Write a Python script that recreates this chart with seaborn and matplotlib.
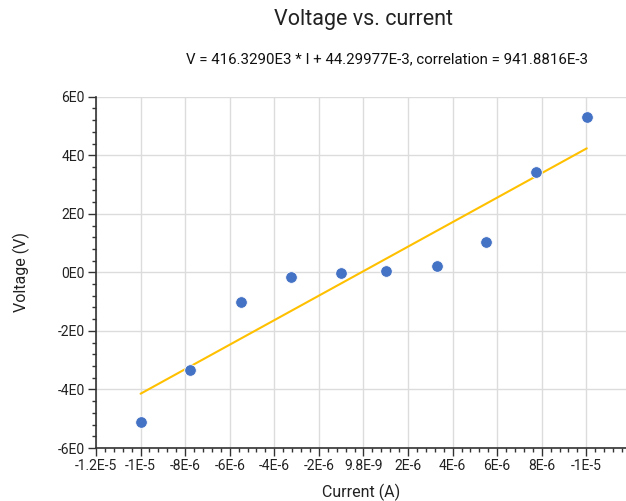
import numpy as np
import pandas as pd
import seaborn as sns
import matplotlib
matplotlib.use("Agg")
import matplotlib.pyplot as plt
from matplotlib.ticker import AutoMinorLocator, FixedLocator

current = [-10.0e-6, -7.76e-6, -5.5e-6, -3.25e-6, -1.0e-6, 1.0e-6, 3.28e-6, 5.52e-6, 7.75e-6, 10.02e-6]
voltage = [-5.12, -3.32, -1.0, -0.17, -0.01, 0.055, 0.2, 1.04, 3.44, 5.32]
x_ticks = [-1.2e-5, -1e-5, -8e-6, -6e-6, -4e-6, -2e-6, 0.0, 2e-6, 4e-6, 6e-6, 8e-6, 1e-5]
x_labels = ["-1.2E-5", "-1E-5", "-8E-6", "-6E-6", "-4E-6", "-2E-6", "9.8E-9",
            "2E-6", "4E-6", "6E-6", "8E-6", "-1E-5"]
y_ticks = [-6, -4, -2, 0, 2, 4, 6]
y_labels = ["-6E0", "-4E0", "-2E0", "0E0", "2E0", "4E0", "6E0"]
title = "Voltage vs. current"
subtitle = "V = 416.3290E3 * I + 44.29977E-3, correlation = 941.8816E-3"

df = pd.DataFrame({"Current (A)": current, "Voltage (V)": voltage})

sns.set_theme(style="white")
plt.rcParams["font.family"] = ["Roboto", "DejaVu Sans"]

fig = plt.figure(figsize=(6.26, 5.01), dpi=100)
ax = fig.add_axes([96 / 626, 1 - 448 / 501, 1 - 96 / 626, (448 - 96.7) / 501])

ax.grid(True, color="#dcdcdc", linewidth=1.0, zorder=0)
sns.regplot(data=df, x="Current (A)", y="Voltage (V)", ax=ax, scatter=False, ci=None,
            truncate=True, line_kws={"color": "#FFC000", "linewidth": 1.5, "zorder": 2})
sns.scatterplot(data=df, x="Current (A)", y="Voltage (V)", ax=ax, color="#4472C4",
                s=70, edgecolor="white", linewidth=0.6, zorder=3)

ax.set_xlim(-1.2e-5, 1.178e-5)
ax.set_ylim(-6, 6)
ax.xaxis.set_major_locator(FixedLocator(x_ticks))
ax.set_xticklabels(x_labels)
ax.set_yticks(y_ticks)
ax.set_yticklabels(y_labels)
ax.xaxis.set_minor_locator(AutoMinorLocator(5))
ax.yaxis.set_minor_locator(AutoMinorLocator(5))
ax.tick_params(which="major", direction="out", length=6, width=1, color="#333333",
               labelsize=10, labelcolor="#222222", bottom=True, left=True, pad=2)
ax.tick_params(which="minor", direction="out", length=3, width=1, color="#333333",
               bottom=True, left=True)
for s in ["top", "right"]:
    ax.spines[s].set_visible(False)
for s in ["left", "bottom"]:
    ax.spines[s].set_color("#333333")
    ax.spines[s].set_linewidth(1.2)

ax.set_xlabel("Current (A)", fontsize=11.5, color="#222222", labelpad=8)
ax.set_ylabel("Voltage (V)", fontsize=11.5, color="#222222", labelpad=20)

fig.text(363 / 626, 1 - 19 / 501, title, ha="center", va="center", fontsize=15.5, color="#222222")
fig.text(387 / 626, 1 - 59 / 501, subtitle, ha="center", va="center", fontsize=10.8, color="#111111")

fig.savefig("out.png", dpi=100)
